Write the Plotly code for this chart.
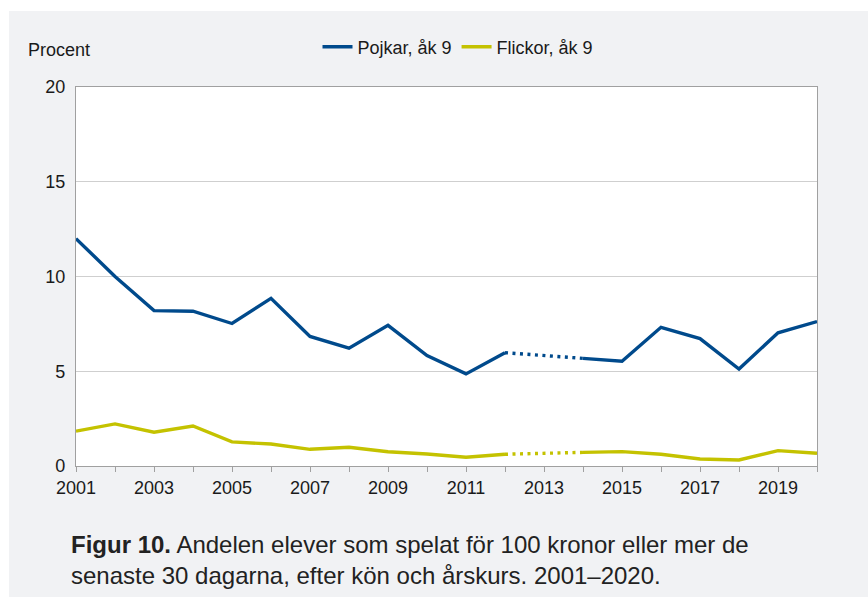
import plotly.graph_objects as go

years = list(range(2001, 2021))
pojkar = [12.0, 10.0, 8.2, 8.17, 7.52, 8.85, 6.84, 6.22, 7.42, 5.83, 4.86, 5.98,
          None, 5.68, 5.53, 7.32, 6.72, 5.12, 7.03, 7.62]
flickor = [1.84, 2.22, 1.78, 2.11, 1.27, 1.16, 0.88, 0.99, 0.75, 0.63, 0.46, 0.62,
           None, 0.72, 0.76, 0.62, 0.37, 0.32, 0.81, 0.67]
tick_years = list(range(2001, 2021, 2))
y_ticks = [0, 5, 10, 15, 20]

BLUE = "#004a8c"
YEL = "#c4c200"
FONT = "Liberation Sans, Arial, sans-serif"

def gap_segment(vals):
    i0 = years.index(2012)
    i1 = years.index(2014)
    return [years[i0], years[i1]], [vals[i0], vals[i1]]

fig = go.Figure()
fig.add_trace(go.Scatter(x=years, y=pojkar, mode="lines", name="Pojkar, åk 9",
                         line=dict(color=BLUE, width=3.4), connectgaps=False))
fig.add_trace(go.Scatter(x=years, y=flickor, mode="lines", name="Flickor, åk 9",
                         line=dict(color=YEL, width=3.4), connectgaps=False))
gx, gy = gap_segment(pojkar)
fig.add_trace(go.Scatter(x=gx, y=gy, mode="lines", showlegend=False,
                         line=dict(color=BLUE, width=3.4, dash="3px,4.5px")))
gx, gy = gap_segment(flickor)
fig.add_trace(go.Scatter(x=gx, y=gy, mode="lines", showlegend=False,
                         line=dict(color=YEL, width=3.4, dash="3px,4.5px")))

W, H = 868, 605
L, R, T, B = 76, 51, 87, 139
pw, ph = W - L - R, H - T - B

def px(x):
    return (x - L) / pw

def py(y):
    return (H - B - y) / ph

fig.update_layout(
    width=W, height=H,
    margin=dict(l=L, r=R, t=T, b=B),
    paper_bgcolor="#f1f2f4",
    plot_bgcolor="white",
    font=dict(family=FONT, size=18, color="#1a1a1a"),
    showlegend=True,
    legend=dict(orientation="h", x=px(458), xanchor="center", y=py(47), yanchor="middle",
                bgcolor="rgba(0,0,0,0)", font=dict(size=18), itemwidth=30,
                tracegroupgap=0),
    xaxis=dict(range=[2001, 2020], tickmode="array", tickvals=tick_years,
               ticktext=[str(t) for t in tick_years],
               showgrid=False, zeroline=False, showline=True, linecolor="#a0a0a0",
               linewidth=1.3, mirror=True, ticks="outside", ticklen=5, tickcolor="#a0a0a0",
               minor=dict(ticks="outside", ticklen=5, tickcolor="#a0a0a0", dtick=1,
                          tick0=2001, showgrid=False),
               tickfont=dict(size=18)),
    yaxis=dict(range=[0, 20], tickvals=y_ticks, showgrid=True, gridcolor="#cfcfcf",
               gridwidth=1, zeroline=False, showline=True, linecolor="#a0a0a0",
               linewidth=1.3, mirror=True, ticks="", tickfont=dict(size=18),
               ticklabelstandoff=6),
)

# white strips outside the grey panel
fig.add_shape(type="rect", xref="paper", yref="paper", x0=px(-5), x1=px(W + 5),
              y0=py(11), y1=py(-5), fillcolor="white", line=dict(width=0), layer="above")
fig.add_shape(type="rect", xref="paper", yref="paper", x0=px(-5), x1=px(9),
              y0=py(-5), y1=py(W), fillcolor="white", line=dict(width=0), layer="above")
fig.add_shape(type="rect", xref="paper", yref="paper", x0=px(-5), x1=px(W + 5),
              y0=py(597), y1=py(H + 5), fillcolor="white", line=dict(width=0), layer="above")

fig.add_annotation(text="Procent", xref="paper", yref="paper", x=px(26), y=py(50),
                   xanchor="left", yanchor="middle", showarrow=False,
                   font=dict(size=18, family=FONT))
fig.add_annotation(text="<b>Figur 10.</b> Andelen elever som spelat för 100 kronor eller mer de",
                   xref="paper", yref="paper", x=px(69), y=py(544),
                   xanchor="left", yanchor="middle", showarrow=False,
                   font=dict(size=24, family=FONT, color="#222222"))
fig.add_annotation(text="senaste 30 dagarna, efter kön och årskurs. 2001–2020.",
                   xref="paper", yref="paper", x=px(69), y=py(575),
                   xanchor="left", yanchor="middle", showarrow=False,
                   font=dict(size=24, family=FONT, color="#222222"))

fig.write_html("out.html", config={"displayModeBar": False},
               post_script="document.body.style.margin='0';document.body.style.overflow='hidden';")
